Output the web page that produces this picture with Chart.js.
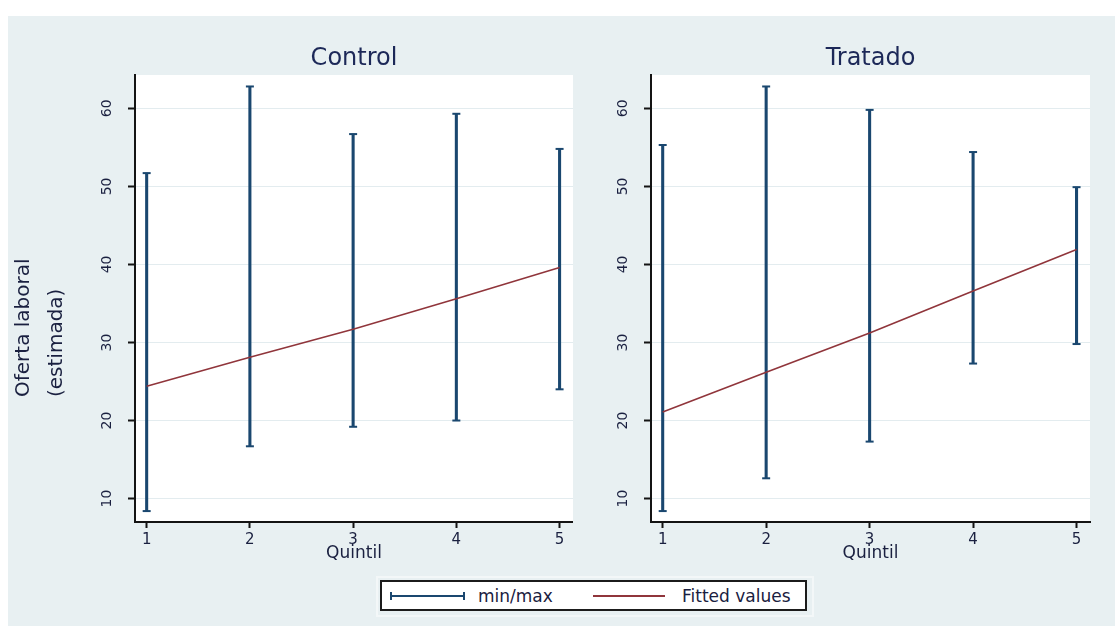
<!DOCTYPE html>
<html>
<head>
<meta charset="utf-8">
<script src="https://cdn.jsdelivr.net/npm/chart.js@4.4.1/dist/chart.umd.min.js"></script>
<style>
  html, body { margin: 0; padding: 0; background: #ffffff; width: 1115px; height: 626px; overflow: hidden; font-family: 'DejaVu Sans', sans-serif; }
  #bg { position: absolute; left: 8px; top: 16px; right: 0; bottom: 0; background: #e8f0f2; }
  canvas { position: absolute; top: 0; }
  #c1 { left: 0; }
  #c2 { left: 590px; }
  .ytitle { position: absolute; top: 397px; transform-origin: 0 0; transform: rotate(-90deg); font-size: 20px; line-height: 24px; white-space: nowrap; color: #1a2040; }
  #legend-frame { position: absolute; left: 376px; top: 576px; width: 434px; height: 37px; border: 2px solid #f3f7f8; }
  #legend { position: absolute; left: 380px; top: 580px; width: 423px; height: 27px; border: 2px solid #1b1b1b; background: #ffffff; }
  #legend .sym-range { position: absolute; left: 8px; top: 10px; width: 71px; height: 8px; border-left: 2px solid #1a476f; border-right: 2px solid #1a476f; }
  #legend .sym-range::before { content: ''; position: absolute; left: 0; right: 0; top: 3px; height: 2px; background: #1a476f; }
  #legend .sym-fit { position: absolute; left: 211px; top: 13px; width: 72px; height: 2px; background: #90353b; }
  #legend .lab { position: absolute; top: 0; line-height: 28px; font-size: 17px; color: #1a2040; white-space: nowrap; }
</style>
</head>
<body>
<div id="bg"></div>
<canvas id="c1" width="573" height="626"></canvas>
<canvas id="c2" width="525" height="626"></canvas>
<div class="ytitle" style="left:10px;">Oferta laboral</div>
<div class="ytitle" style="left:43px;">(estimada)</div>
<div id="legend-frame"></div>
<div id="legend">
  <span class="sym-range"></span><span class="lab" style="left:96px;">min/max</span>
  <span class="sym-fit"></span><span class="lab" style="left:300px;">Fitted values</span>
</div>
<script>
// Quintile positions and axis ticks
const quintiles = [1, 2, 3, 4, 5];
const xTickValues = [1, 2, 3, 4, 5];
const yTickValues = [10, 20, 30, 40, 50, 60];

// Control group: range (min/max) and fitted values per quintile
const controlMin = [8.4, 16.7, 19.2, 20.0, 24.0];
const controlMax = [51.7, 62.8, 56.7, 59.3, 54.8];
const controlFit = [24.4, 28.1, 31.7, 35.6, 39.6];

// Treated group
const tratadoMin = [8.4, 12.6, 17.3, 27.3, 29.8];
const tratadoMax = [55.3, 62.8, 59.8, 54.4, 49.9];
const tratadoFit = [21.1, 26.2, 31.2, 36.6, 41.9];

const panelTitles = ['Control', 'Tratado'];
const xAxisTitle = 'Quintil';

const NAVY = '#1a476f';
const MAROON = '#90353b';
const TEXT = '#1a2040';
const GRID = '#e3ecef';
const AXIS = '#141414';

Chart.defaults.font.family = "'DejaVu Sans', sans-serif";
Chart.defaults.color = TEXT;

// White plot region inside the tinted graph background
const plotBackground = {
  id: 'plotBackground',
  beforeDraw(chart) {
    const { ctx, chartArea: a } = chart;
    ctx.save();
    ctx.fillStyle = '#ffffff';
    ctx.fillRect(a.left, a.top, a.right - a.left, a.bottom - a.top);
    ctx.restore();
  }
};

function makePanel(canvasId, title, mins, maxs, fits, yAxisWidth, padRight) {
  const rangeBars = quintiles.map((q, i) => ({ x: q, y: [mins[i], maxs[i]] }));
  const caps = [];
  quintiles.forEach((q, i) => { caps.push({ x: q, y: mins[i] }); caps.push({ x: q, y: maxs[i] }); });
  const fitted = quintiles.map((q, i) => ({ x: q, y: fits[i] }));

  return new Chart(document.getElementById(canvasId), {
    type: 'bar',
    data: {
      datasets: [
        {
          type: 'line', label: 'Fitted values', data: fitted, order: 0,
          borderColor: MAROON, borderWidth: 1.6, pointRadius: 0, pointHoverRadius: 0,
          fill: false, tension: 0
        },
        {
          type: 'line', label: 'caps', data: caps, order: 1, showLine: false,
          pointStyle: 'line', pointRadius: 4, pointHoverRadius: 4,
          pointBorderColor: NAVY, pointBorderWidth: 2, borderColor: NAVY, backgroundColor: NAVY
        },
        {
          type: 'bar', label: 'min/max', data: rangeBars, order: 2,
          backgroundColor: NAVY, borderWidth: 0, borderSkipped: false,
          barThickness: 2.4, grouped: false
        }
      ]
    },
    options: {
      responsive: false,
      animation: false,
      events: [],
      layout: { autoPadding: false, padding: { left: 0, right: padRight, top: 44.6, bottom: 62.3 } },
      plugins: {
        legend: { display: false },
        tooltip: { enabled: false },
        title: {
          display: true, fullSize: false, text: title, color: '#1c2858',
          font: { size: 24, weight: 'normal' }, padding: { top: 0, bottom: 1.6 }
        }
      },
      scales: {
        x: {
          type: 'linear', position: 'bottom', min: 0.887, max: 5.13, offset: false,
          afterBuildTicks: s => { s.ticks = xTickValues.map(v => ({ value: v })); },
          afterFit: s => { s.height = 41.7; },
          grid: { display: true, drawOnChartArea: false, drawTicks: true, tickLength: 6, tickColor: AXIS, tickWidth: 2, offset: false },
          border: { display: true, color: AXIS, width: 2 },
          ticks: { font: { size: 15 }, color: TEXT, padding: 3, minRotation: 0, maxRotation: 0, autoSkip: false },
          title: { display: true, text: xAxisTitle, color: TEXT, font: { size: 17 }, padding: { top: 0, bottom: 0 } }
        },
        y: {
          type: 'linear', position: 'left', min: 7.0, max: 64.27, beginAtZero: false,
          afterBuildTicks: s => { s.ticks = yTickValues.map(v => ({ value: v })); },
          afterFit: s => { s.width = yAxisWidth; },
          grid: { color: GRID, lineWidth: 1, drawTicks: true, tickLength: 7, tickColor: AXIS, tickWidth: 2 },
          border: { display: true, color: AXIS, width: 2 },
          ticks: { font: { size: 14 }, color: TEXT, minRotation: 90, maxRotation: 90, crossAlign: 'center', padding: 12, autoSkip: false }
        }
      }
    },
    plugins: [plotBackground]
  });
}

makePanel('c1', panelTitles[0], controlMin, controlMax, controlFit, 135, 0);
makePanel('c2', panelTitles[1], tratadoMin, tratadoMax, tratadoFit, 61, 25);
</script>
</body>
</html>
